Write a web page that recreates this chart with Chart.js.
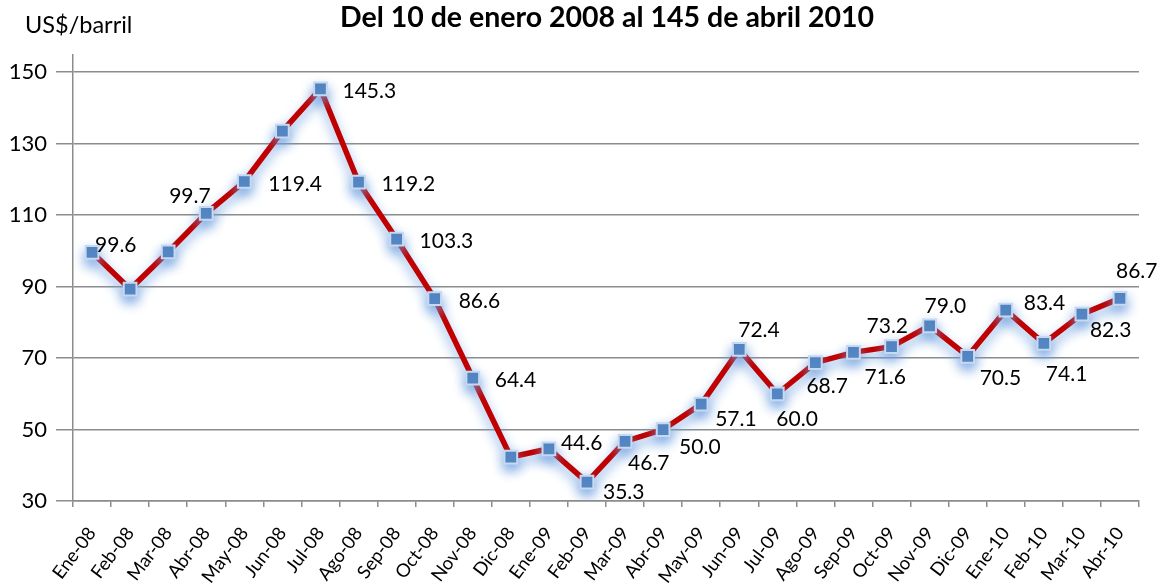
<!DOCTYPE html>
<html>
<head>
<meta charset="utf-8">
<script src="https://cdn.jsdelivr.net/npm/chart.js@4"></script>
<style>
  html, body { margin: 0; padding: 0; background: #fff; }
  #wrap { width: 1160px; height: 588px; position: relative; }
</style>
</head>
<body>
<div id="wrap"><canvas id="oil-chart"></canvas></div>
<script>
// Monthly oil price, US$/barril
const months = ['Ene-08','Feb-08','Mar-08','Abr-08','May-08','Jun-08','Jul-08','Ago-08','Sep-08','Oct-08','Nov-08','Dic-08',
                'Ene-09','Feb-09','Mar-09','Abr-09','May-09','Jun-09','Jul-09','Ago-09','Sep-09','Oct-09','Nov-09','Dic-09',
                'Ene-10','Feb-10','Mar-10','Abr-10'];
const prices = [99.6, 89.3, 99.7, 110.5, 119.4, 133.5, 145.3, 119.2, 103.3, 86.6, 64.4, 42.3,
                44.6, 35.3, 46.7, 50.0, 57.1, 72.4, 60.0, 68.7, 71.6, 73.2, 79.0, 70.5,
                83.4, 74.1, 82.3, 86.7];
const yTicks = [30, 50, 70, 90, 110, 130, 150];

const chartTitle = 'Del 10 de enero 2008 al 145 de abril 2010';
const unitLabel = 'US$/barril';

// where each value label sits relative to its point [dx to left edge, dy to middle]; null = no label
const labelOffsets = [[3,-7], null, [1,-56], null, [24,3], null, [22,2], [23,2], [23,2], [24,3], [22,2], null,
                      [12,-6], [16,10], [3,22], [16,18], [14,15], [-1,-19], [-1,25], [-9,24], [11,25], [-25,-20], [-5,-20], [12,22],
                      [18,-7], [2,31], [8,16], [-4,-27]];

const FONT = 'Lato, "Open Sans", sans-serif';

// blue haze under the line and markers
const glowPlugin = {
    id: 'glow',
    beforeDatasetsDraw(chart) {
        const ctx = chart.ctx;
        ctx.save();
        ctx.shadowColor = 'rgba(110,160,225,0.85)';
        ctx.shadowBlur = 12;
        ctx.shadowOffsetX = 0;
        ctx.shadowOffsetY = 6;
    },
    afterDatasetsDraw(chart) {
        chart.ctx.restore();
    }
};

const valueLabelPlugin = {
    id: 'valueLabels',
    afterDatasetsDraw(chart) {
        const ctx = chart.ctx;
        const meta = chart.getDatasetMeta(0);
        ctx.save();
        ctx.font = '21px ' + FONT;
        ctx.fillStyle = '#000';
        ctx.textAlign = 'left';
        ctx.textBaseline = 'middle';
        meta.data.forEach((pt, i) => {
            const off = labelOffsets[i];
            if (!off) return;
            ctx.fillText(prices[i].toFixed(1), pt.x + off[0], pt.y + off[1]);
        });
        ctx.restore();
    }
};

const headerPlugin = {
    id: 'header',
    afterDraw(chart) {
        const ctx = chart.ctx;
        ctx.save();
        ctx.fillStyle = '#000';
        ctx.textBaseline = 'middle';
        ctx.font = 'bold 28.5px ' + FONT;
        ctx.textAlign = 'center';
        ctx.fillText(chartTitle, 607, 18);
        ctx.font = '23.5px ' + FONT;
        ctx.textAlign = 'left';
        ctx.fillText(unitLabel, 25, 25);
        ctx.restore();
    }
};

const ctx = document.getElementById('oil-chart').getContext('2d');
new Chart(ctx, {
    type: 'line',
    data: {
        labels: months,
        datasets: [{
            data: prices,
            borderColor: '#c00000',
            borderWidth: 5.5,
            tension: 0,
            pointStyle: 'rect',
            pointRadius: 9,
            pointBackgroundColor: '#4f81bd',
            pointBorderColor: '#c6d9f1',
            pointBorderWidth: 2,
            pointHoverRadius: 9
        }]
    },
    options: {
        responsive: true,
        maintainAspectRatio: false,
        animation: false,
        layout: { padding: { top: 55, right: 21, left: 0, bottom: 0 } },
        plugins: {
            legend: { display: false },
            tooltip: { enabled: false }
        },
        scales: {
            x: {
                offset: true,
                grid: { offset: true, drawOnChartArea: false, drawTicks: true, tickLength: 6, color: '#8c8c8c', lineWidth: 1.5 },
                border: { color: '#8c8c8c', width: 1.5 },
                ticks: { color: '#000', font: { family: FONT, size: 18.5 }, minRotation: 53, maxRotation: 53, autoSkip: false, padding: 16 },
                afterFit(scale) { scale.height = 87; }
            },
            y: {
                min: 30,
                max: 154.8,
                afterBuildTicks(scale) { scale.ticks = yTicks.map(v => ({ value: v })); },
                grid: { color: '#8c8c8c', lineWidth: 1.5, tickLength: 17 },
                border: { color: '#8c8c8c', width: 1.5 },
                ticks: { color: '#000', font: { family: FONT, size: 22 }, padding: 9 },
                afterFit(scale) { scale.width = 73; }
            }
        }
    },
    plugins: [glowPlugin, valueLabelPlugin, headerPlugin]
});
</script>
</body>
</html>
